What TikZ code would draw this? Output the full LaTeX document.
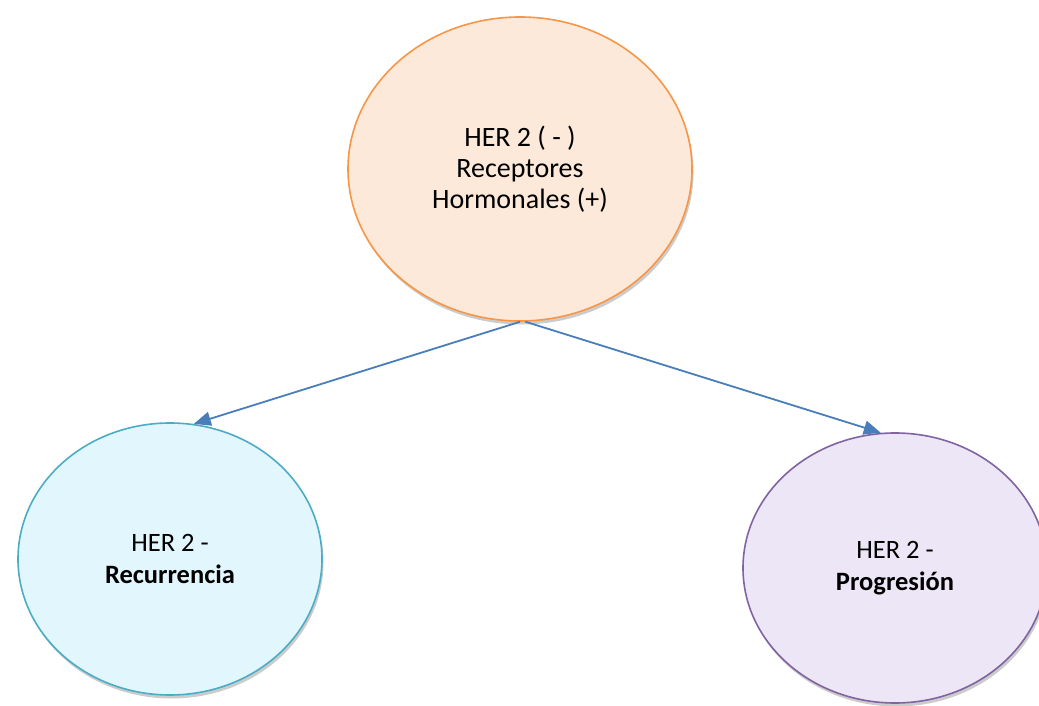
\documentclass[tikz,border=0pt]{standalone}
\usepackage{fontspec}
\setmainfont{Carlito}
\usetikzlibrary{shapes.geometric,arrows.meta,shadows}
\definecolor{peachfill}{HTML}{FDE9D9}
\definecolor{peachline}{HTML}{F79646}
\definecolor{cyanfill}{HTML}{E2F6FD}
\definecolor{cyanline}{HTML}{4BACC6}
\definecolor{lilacfill}{HTML}{EDE6F6}
\definecolor{lilacline}{HTML}{8064A2}
\definecolor{arrowblue}{HTML}{4A7EBB}
\tikzset{
  bubble/.style={ellipse, draw, line width=1.6pt, inner sep=0pt, align=center,
    font=\fontsize{26.5}{32}\selectfont,
    drop shadow={opacity=0.4, shadow xshift=1.5pt, shadow yshift=-3.5pt}},
  link/.style={draw=arrowblue, line width=1.8pt, -{Triangle[length=17pt,width=14pt]}}
}
\begin{document}
\begin{tikzpicture}[x=1pt,y=1pt]
  \useasboundingbox (0,0) rectangle (1039,705);
  % the three ellipses
  \node[bubble, draw=peachline, fill=peachfill, minimum width=344pt, minimum height=304pt,
    font=\fontsize{28}{31}\selectfont] (hormonal) at (520,536) {HER 2 ( - )\\Receptores\\Hormonales (+)};
  \node[bubble, draw=cyanline, fill=cyanfill, minimum width=304pt, minimum height=272pt] (recur) at (170,146) {HER 2 -\\\textbf{Recurrencia}};
  \node[bubble, draw=lilacline, fill=lilacfill, minimum width=304pt, minimum height=270pt] (progres) at (895,137) {HER 2 -\\\textbf{Progresión}};
  % arrows
  \draw[link] (hormonal.south) -- (recur.80);
  \draw[link] (hormonal.272) -- (progres.96);
\end{tikzpicture}
\end{document}
